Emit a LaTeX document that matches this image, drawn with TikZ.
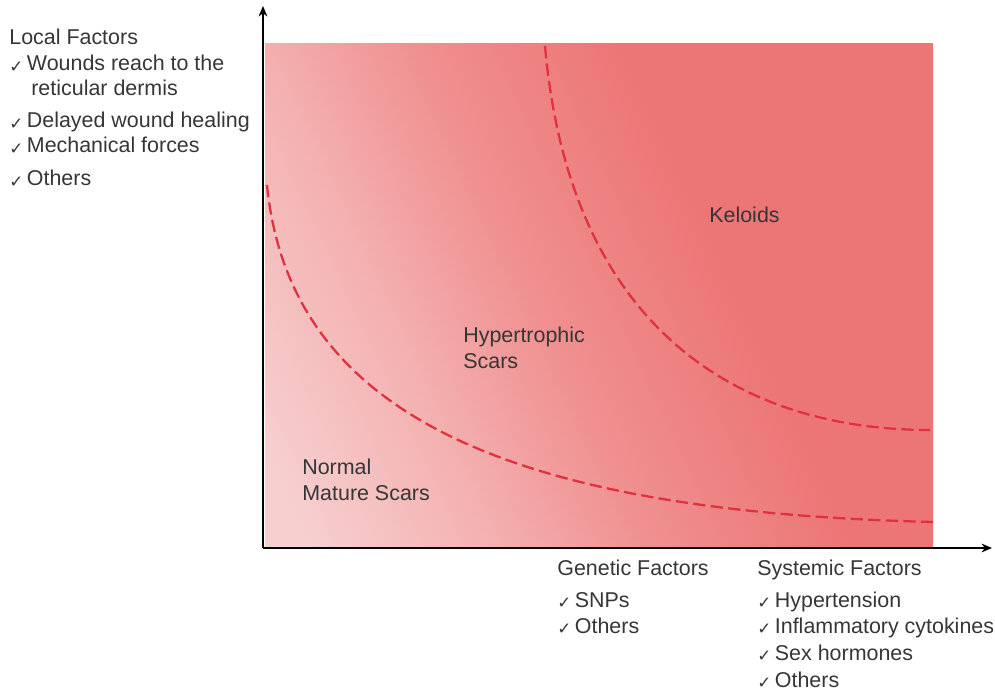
\documentclass[tikz,border=0pt]{standalone}
\usepackage{fontspec}
\setmainfont{Liberation Sans}
\newfontfamily\tickfont{DejaVu Sans}
\usepackage{tikz}
\usetikzlibrary{arrows.meta}
\definecolor{txtgray}{HTML}{363636}
\definecolor{scarlight}{HTML}{F7CFCF}
\definecolor{scarpale}{HTML}{F4B2B2}
\definecolor{scarmid}{HTML}{F09090}
\definecolor{scardark}{HTML}{EC7676}
\definecolor{scarline}{HTML}{E2303E}
\pgfdeclarehorizontalshading{scarshade}{100bp}{color(0bp)=(scarlight); color(20bp)=(scarlight); color(33bp)=(scarpale); color(45bp)=(scarmid); color(60bp)=(scardark); color(100bp)=(scardark)}
\newcommand{\ck}{{\tickfont\fontsize{9.5}{9.5}\selectfont\raisebox{-1pt}{✓}}\,}

\begin{document}
\begin{tikzpicture}[x=0.02cm,y=-0.02cm,>=Stealth,
  lbl/.style={anchor=base west,inner sep=0pt,text=txtgray,font=\fontsize{12.2}{14}\selectfont},
  axis/.style={black,line width=0.8pt,-{Stealth[length=6pt,width=5pt]}},
  border/.style={scarline,line width=1.3pt,dash pattern=on 7pt off 3pt}]
 \useasboundingbox (0,0) rectangle (995,696);
 % shaded field
 \shade[shading=scarshade,shading angle=25] (265,44) rectangle (933,546);
 \coordinate (n1) at (267,185);
 \coordinate (n2) at (933,522);
 \coordinate (k1) at (545,46);
 \coordinate (k2) at (930,430);
 \draw[border] (n1) .. controls (290,420) and (520,512) .. (n2);
 \draw[border] (k1) .. controls (570,330) and (740,430) .. (k2);
 % axes
 \coordinate (O) at (263,548);
 \coordinate (ytip) at (263,6);
 \coordinate (xtip) at (992,548);
 \draw[axis] (O) -- (ytip);
 \draw[axis] (O) -- (xtip);
 % regions
 \node[lbl] (kel) at (709,223) {Keloids};
 \node[lbl] (hyp1) at (463,342) {Hypertrophic};
 \node[lbl] (hyp2) at (463,368) {Scars};
 \node[lbl] (nor1) at (302,474) {Normal};
 \node[lbl] (nor2) at (302,500) {Mature Scars};
 % local factors
 \node[lbl] (loc) at (9,45) {Local Factors};
 \node[lbl] (loc1) at (9,71) {\ck Wounds reach to the};
 \node[lbl] (loc1b) at (31,96) {reticular dermis};
 \node[lbl] (loc2) at (9,128) {\ck Delayed wound healing};
 \node[lbl] (loc3) at (9,153) {\ck Mechanical forces};
 \node[lbl] (loc4) at (9,186) {\ck Others};
 % genetic factors
 \node[lbl] (gen) at (557,575) {Genetic Factors};
 \node[lbl] (gen1) at (557,607) {\ck SNPs};
 \node[lbl] (gen2) at (557,633) {\ck Others};
 % systemic factors
 \node[lbl] (sys) at (757,575) {Systemic Factors};
 \node[lbl] (sys1) at (757,607) {\ck Hypertension};
 \node[lbl] (sys2) at (757,633) {\ck Inflammatory cytokines};
 \node[lbl] (sys3) at (757,660) {\ck Sex hormones};
 \node[lbl] (sys4) at (757,687) {\ck Others};
\end{tikzpicture}
\end{document}
